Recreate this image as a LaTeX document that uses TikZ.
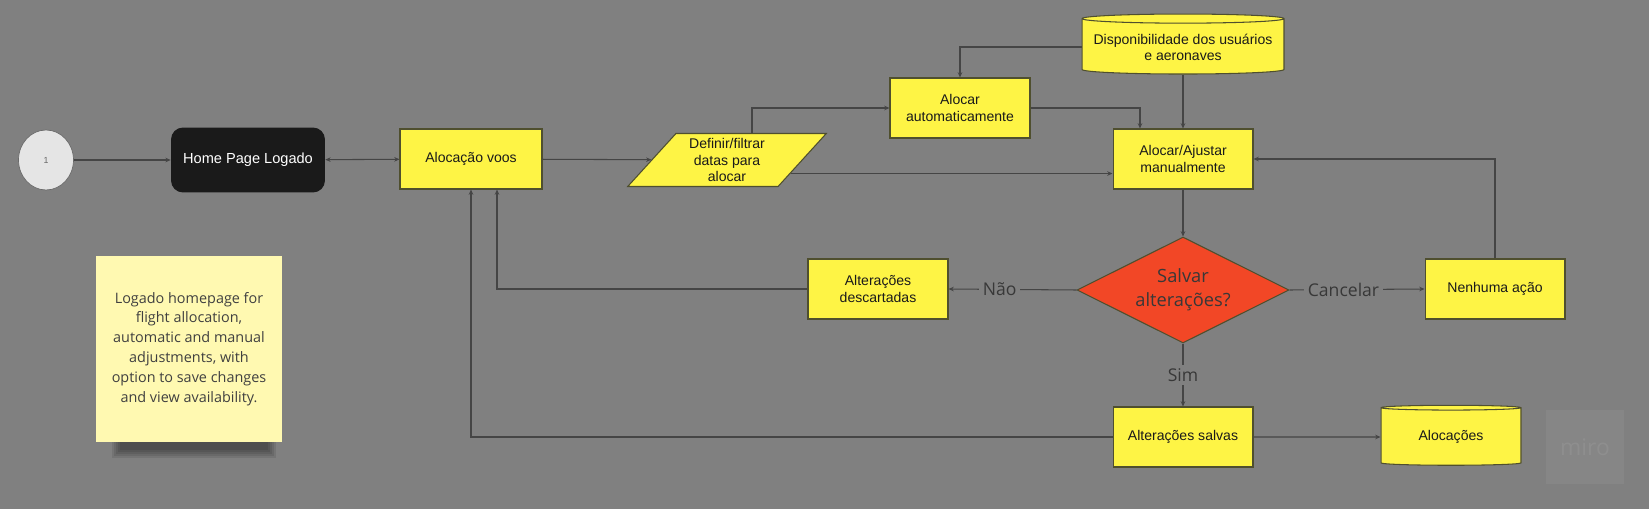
\documentclass[tikz,border=0pt]{standalone}
\usepackage{fontspec}
\setmainfont{Liberation Sans}
\newfontfamily\notafont{Open Sans}
\usepackage{tikz}
\usetikzlibrary{shapes.geometric, positioning, arrows.meta, calc}

\definecolor{fundo}{HTML}{808080}
\definecolor{amarelo}{HTML}{FEF445}
\definecolor{borda}{HTML}{4F4F2E}
\definecolor{linha}{HTML}{454545}
\definecolor{vermelho}{HTML}{F24726}
\definecolor{preto}{HTML}{1A1A1A}
\definecolor{nota}{HTML}{FFF9B1}
\definecolor{rotulotxt}{HTML}{383838}

\tikzset{
  processo/.style={rectangle, draw=borda, line width=0.6pt, fill=amarelo, minimum width=2.8cm, minimum height=1.2cm, text centered, align=center, inner sep=1pt},
  banco/.style={cylinder, shape border rotate=90, aspect=0.07, draw=borda, line width=0.6pt, fill=amarelo, minimum width=2.8cm, minimum height=1.2cm, align=center, inner sep=1pt},
  seta/.style={draw=linha, line width=0.6pt, -{Stealth[length=3pt, width=2.6pt]}}
}

\begin{document}
\begin{tikzpicture}[
        x=0.02cm, y=-0.02cm,
        every node/.style={font=\fontsize{8}{9.2}\selectfont, text=preto},
        % Estilos
        inicio/.style={ellipse, draw=linha!80, line width=0.4pt, fill=black!10, minimum width=1.1cm, minimum height=1.2cm, font=\fontsize{5}{6}\selectfont, text=black!60},
        homepage/.style={rectangle, rounded corners=0.24cm, fill=preto, minimum width=3.08cm, minimum height=1.3cm, text=white, font=\fontsize{8.3}{10}\selectfont},
        dados/.style={trapezium, trapezium left angle=50, trapezium right angle=130, trapezium stretches=true, draw=borda, line width=0.6pt, fill=amarelo, minimum width=3.98cm, minimum height=1.06cm, align=center, inner sep=0pt},
        decisao/.style={diamond, aspect=2, draw=borda, line width=0.6pt, fill=vermelho, minimum width=4.24cm, minimum height=2.12cm, inner sep=0pt, align=center, font=\notafont\fontsize{10.4}{13.6}\selectfont, text=rotulotxt},
        rotulo/.style={fill=fundo, inner sep=2pt, font=\notafont\fontsize{10}{12}\selectfont, text=rotulotxt},
        postit/.style={rectangle, fill=nota, minimum width=3.72cm, minimum height=3.74cm, align=center, font=\notafont\fontsize{8.2}{11.3}\selectfont, text=black!75}
        ]

            % --- Fundo ---
            \fill[fundo] (0,0) rectangle (1649,509);
            \useasboundingbox (0,0) rectangle (1649,509);

            % --- Nos principais ---
            \node (inicio) [inicio] at (46,160) {1};
            \node (home) [homepage] at (248,160) {Home Page Logado};
            \node (voos) [processo, minimum width=2.84cm] at (471,159) {Alocação voos};
            \node (datas) [dados] at (727,160) {Definir/filtrar\\ datas para\\ alocar};
            \node (auto) [processo] at (960,108) {Alocar\\ automaticamente};
            \node (disp) [banco, aspect=0.05, minimum width=4.04cm] at (1183,47) {Disponibilidade dos usuários\\ e aeronaves};
            \node (manual) [processo] at (1183,159) {Alocar/Ajustar\\ manualmente};

            % Decisao e resultados
            \node (salvar) [decisao] at (1183,290) {Salvar\\ alterações?};
            \node (descart) [processo] at (878,289) {Alterações\\ descartadas};
            \node (nenhuma) [processo] at (1495,289) {Nenhuma ação};
            \node (salvas) [processo] at (1183,437) {Alterações salvas};
            \node (alocs) [banco] at (1451,437) {Alocações};

            % Nota (com sombra) e marca d'agua
            \foreach \d in {0,2,4,6,8}
                \fill[black, opacity=0.09] (112+\d,436) rectangle (276-\d,458-\d);
            \node (nota) [postit] at (189,349) {Logado homepage for\\ flight allocation,\\ automatic and manual\\ adjustments, with\\ option to save changes\\ and view availability.};
            \node (miro) [fill=white, fill opacity=0.05, text opacity=0.07, text=white, minimum width=1.56cm, minimum height=1.48cm, font=\notafont\fontsize{13}{14}\selectfont] at (1585,447) {miro};

            % --- Conexoes (linha principal) ---
            \draw [seta] (inicio) -- (home);
            \draw [seta, {Stealth[length=3pt, width=2.6pt]}-{Stealth[length=3pt, width=2.6pt]}] (home) -- (voos);
            \draw [seta] (voos) -- (datas);
            \draw [seta] ($(datas.north)+(25,0)$) |- (auto.west);
            \draw [seta] (datas.-12) -- (datas.-12 -| manual.west);
            \draw [seta] (auto.east) -| ($(manual.north)+(-43,0)$);
            \draw [seta] (disp.west) -| (auto.north);
            \draw [seta] (disp.south) -- (manual.north);
            \draw [seta] (manual) -- (salvar);

            % --- Saidas da decisao ---
            \draw [seta] (salvar.west) -- node[rotulo, pos=0.6]{Não} (descart.east);
            \draw [seta] (salvar.east) -- node[rotulo, pos=0.4]{Cancelar} (nenhuma.west);
            \draw [seta] (salvar.south) -- node[rotulo]{Sim} (salvas.north);
            \draw [seta] (nenhuma.north) |- (manual.east);

            % Retornos para Alocacao voos
            \draw [seta] (descart.west) -| ($(voos.south)+(26,0)$);
            \draw [seta] (salvas.west) -| (voos.south);
            \draw [seta] (salvas) -- (alocs);
        \end{tikzpicture}
\end{document}
